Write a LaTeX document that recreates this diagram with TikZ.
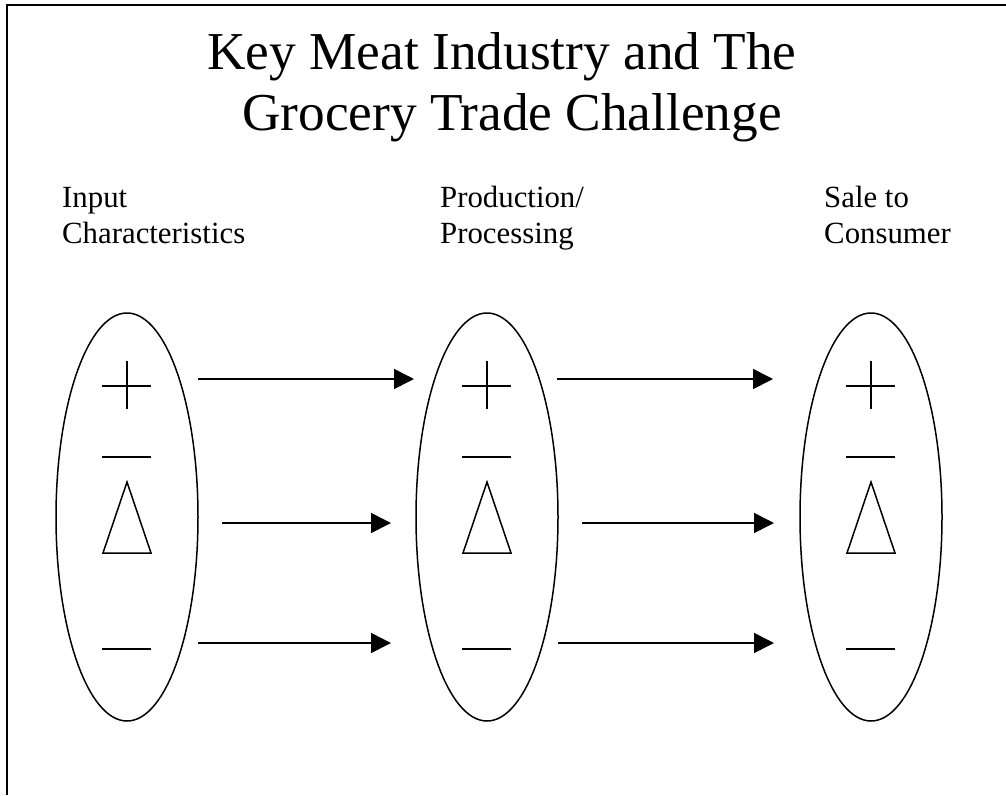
\documentclass[tikz,border=0pt]{standalone}
\usepackage{fontspec}
\setmainfont{Liberation Serif}
\usetikzlibrary{arrows.meta,shapes.geometric}
\begin{document}
\begin{tikzpicture}[x=1pt,y=-1pt,
  oval/.style={draw,ellipse,line width=1.5pt,minimum width=142pt,minimum height=408pt,inner sep=0pt},
  sym/.style={line width=1.5pt},
  flow/.style={line width=1.6pt,-{Triangle[length=20pt,width=20pt]}},
  ttl/.style={font=\fontsize{53.3}{60}\selectfont,anchor=base,inner sep=0pt},
  hdr/.style={font=\fontsize{30.8}{36}\selectfont,anchor=base west,inner sep=0pt,align=left}]
\useasboundingbox (0,0) rectangle (1006,795);
% frame
\draw[line width=2.5pt] (7,795) -- (7,5) -- (1006,5);
% title
\node[ttl] (t1) at (502,69) {Key Meat Industry and The};
\node[ttl] (t2) at (512,130) {Grocery Trade Challenge};
% headers
\node[hdr] (h1) at (62,207) {Input};
\node[hdr] (h1b) at (62,243) {Characteristics};
\node[hdr] (h2) at (440,207) {Production/};
\node[hdr] (h2b) at (440,243) {Processing};
\node[hdr] (h3) at (824,207) {Sale to};
\node[hdr] (h3b) at (824,243) {Consumer};
% ellipses and symbols
\foreach \n/\cx in {e1/127,e2/487,e3/871}{
  \node[oval] (\n) at (\cx,517) {};
  \draw[sym] (\cx-25,386) -- (\cx+24,386) (\cx,361) -- (\cx,409);
  \draw[sym] (\cx-25,457) -- (\cx+24,457);
  \draw[sym,line join=miter] (\cx,482) -- (\cx+24,553) -- (\cx-24,553) -- cycle;
  \draw[sym] (\cx-25,649) -- (\cx+24,649);
}
% arrow endpoints
\coordinate (a1s) at (198,379); \coordinate (a1e) at (414,379);
\coordinate (a2s) at (222,523); \coordinate (a2e) at (391,523);
\coordinate (a3s) at (198,643); \coordinate (a3e) at (391,643);
\coordinate (b1s) at (557,379); \coordinate (b1e) at (773,379);
\coordinate (b2s) at (582,523); \coordinate (b2e) at (774,523);
\coordinate (b3s) at (558,643); \coordinate (b3e) at (774,643);
\foreach \p in {a1,a2,a3,b1,b2,b3}{
  \draw[flow] (\p s) -- (\p e);
}
\end{tikzpicture}
\end{document}
